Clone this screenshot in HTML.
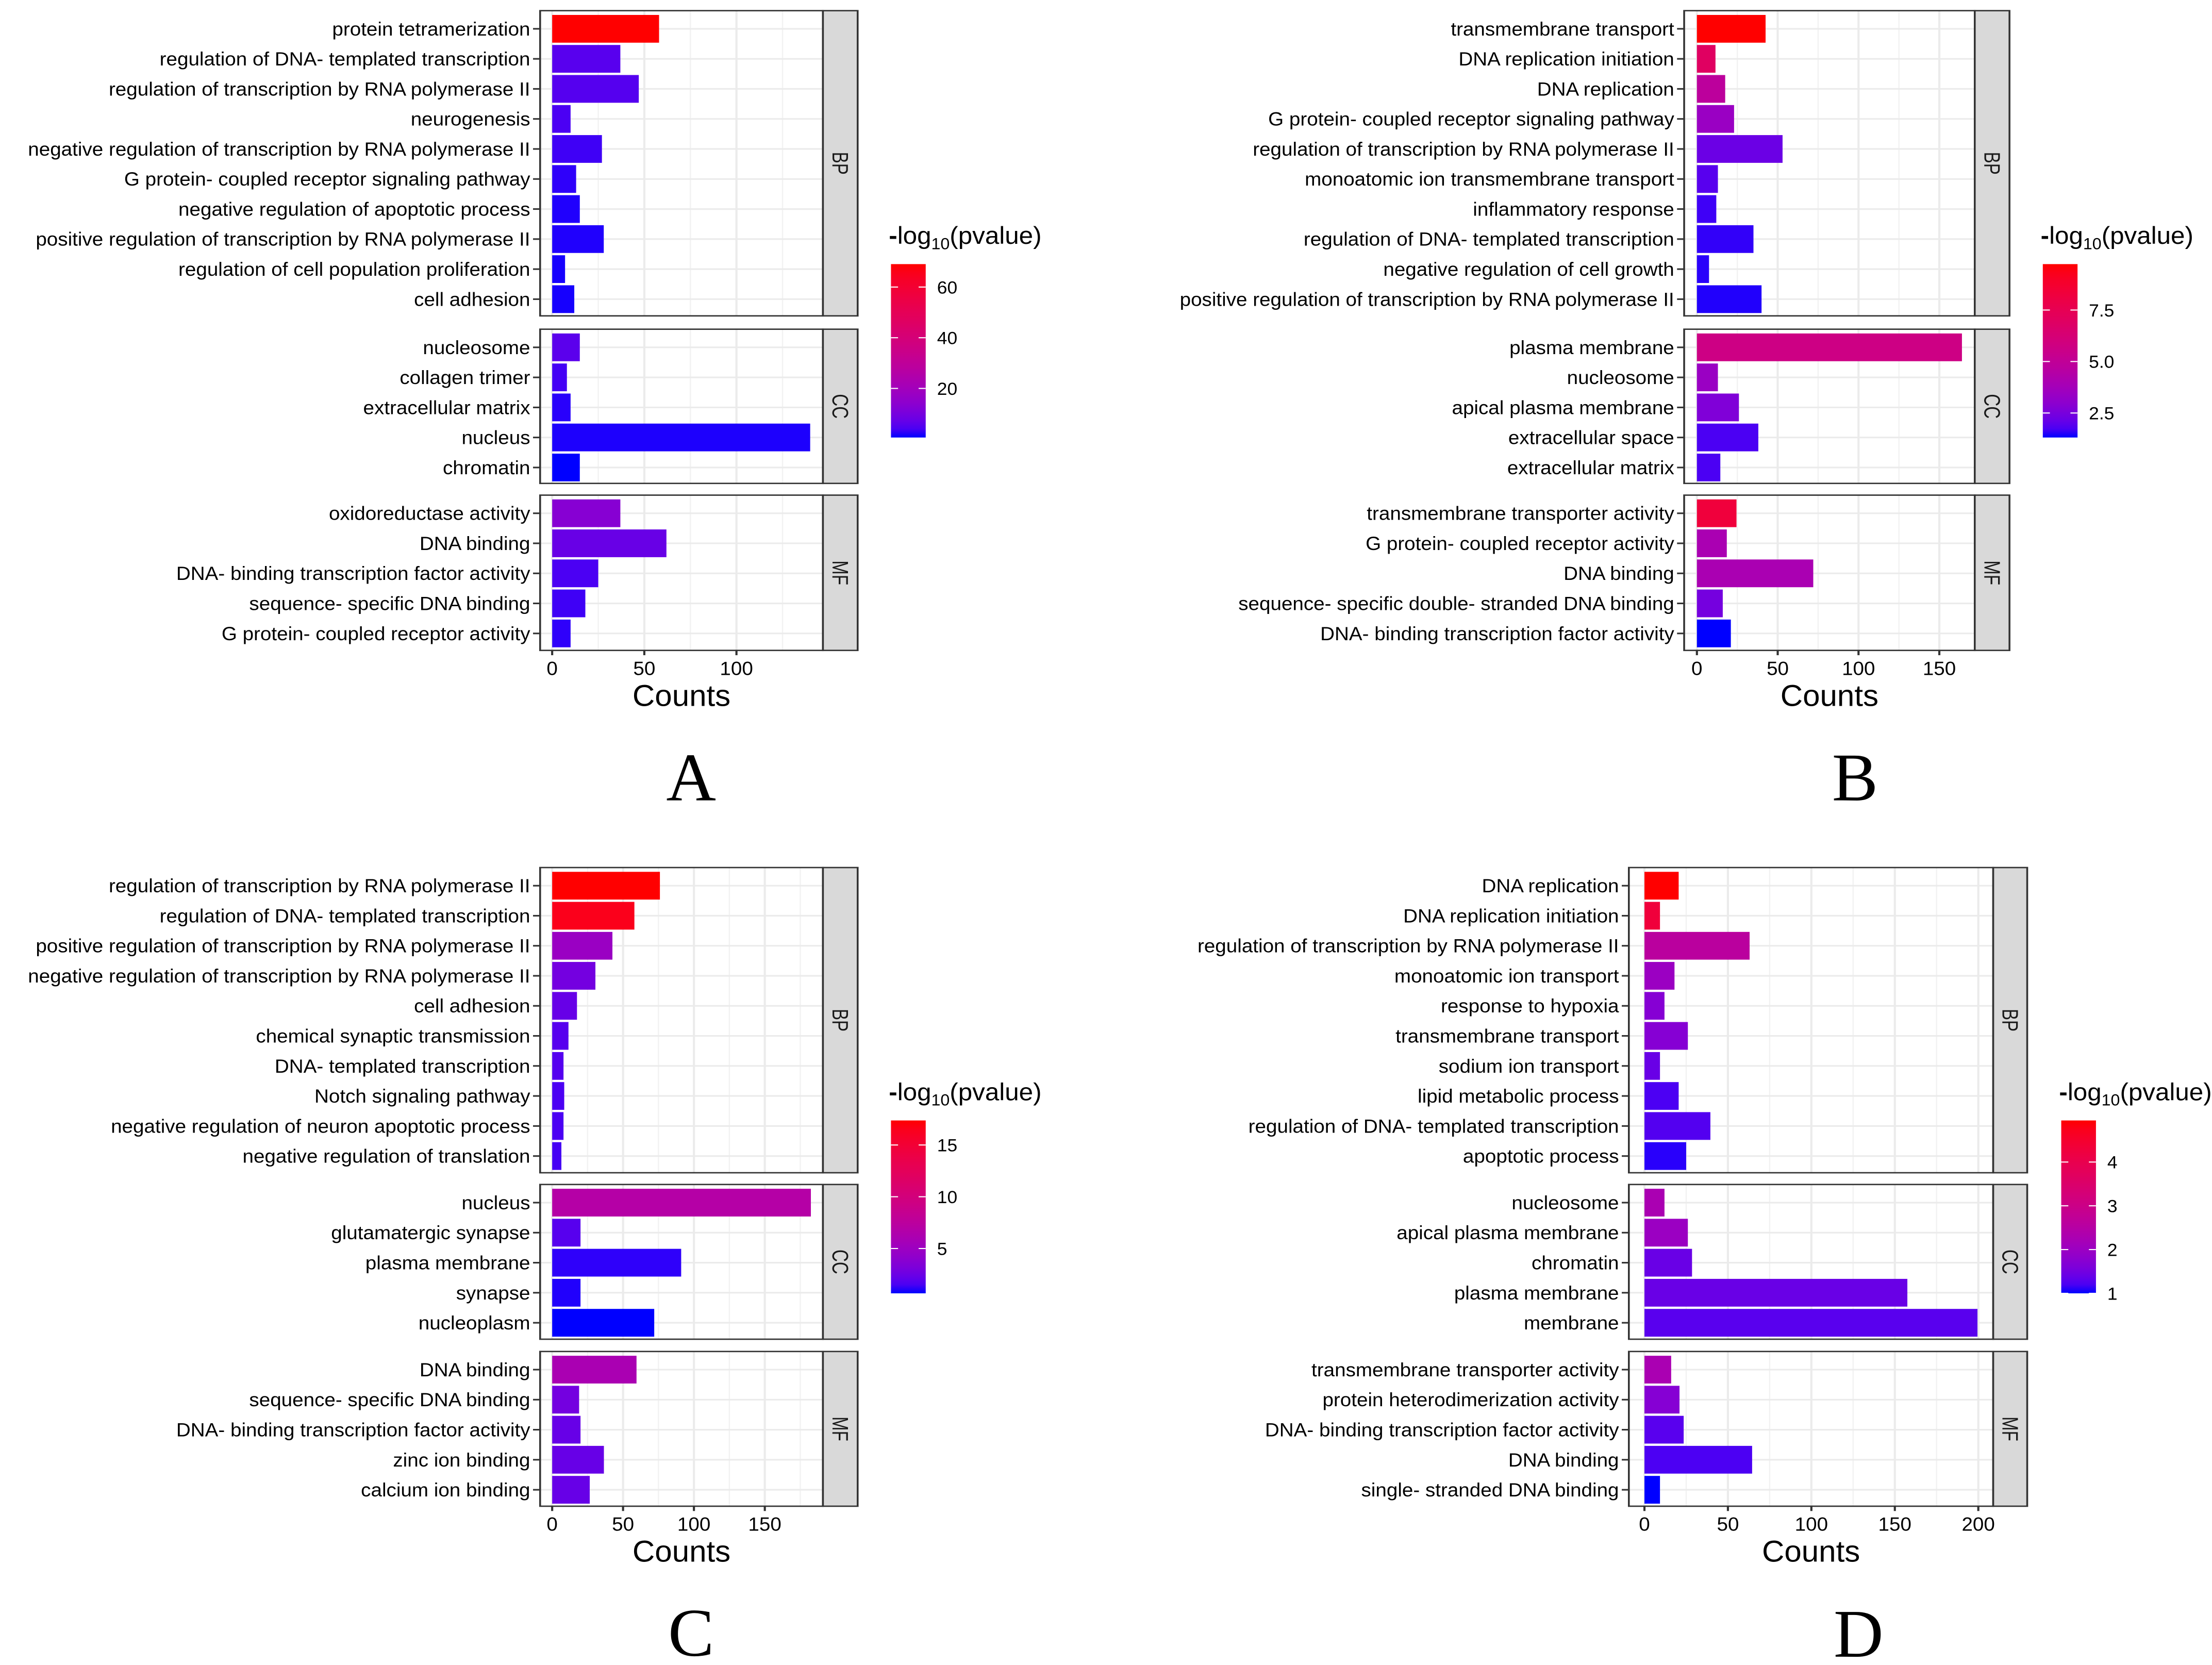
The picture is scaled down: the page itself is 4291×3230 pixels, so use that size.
<!DOCTYPE html>
<html><head><meta charset="utf-8"><style>
html,body{margin:0;padding:0;background:#fff;}
svg{display:block;}
text{font-family:"Liberation Sans",sans-serif;}
</style></head><body>
<svg id="fig" xmlns="http://www.w3.org/2000/svg" width="4291" height="3230" viewBox="0 0 3120.7 3120.6" preserveAspectRatio="none">
<rect x="0" y="0" width="3120.7" height="3120.6" fill="#fff"/>
</svg>
<script>
// ---- Panel A data ----
const aTerms = ["protein tetramerization","regulation of DNA- templated transcription","regulation of transcription by RNA polymerase II","neurogenesis","negative regulation of transcription by RNA polymerase II","G protein- coupled receptor signaling pathway","negative regulation of apoptotic process","positive regulation of transcription by RNA polymerase II","regulation of cell population proliferation","cell adhesion","nucleosome","collagen trimer","extracellular matrix","nucleus","chromatin","oxidoreductase activity","DNA binding","DNA- binding transcription factor activity","sequence- specific DNA binding","G protein- coupled receptor activity"];
const aCounts = [58,37,47,10,27,13,15,28,7,12,15,8,10,140,15,37,62,25,18,10];
const aLogP = [69,5.4,5.1,4.0,3.0,2.0,1.3,1.3,1.0,1.0,5.8,3.4,1.7,1.2,0.63,13,7.5,4,3,2];
const aTicks = [20,40,60];
// ---- Panel B data ----
const bTerms = ["transmembrane transport","DNA replication initiation","DNA replication","G protein- coupled receptor signaling pathway","regulation of transcription by RNA polymerase II","monoatomic ion transmembrane transport","inflammatory response","regulation of DNA- templated transcription","negative regulation of cell growth","positive regulation of transcription by RNA polymerase II","plasma membrane","nucleosome","apical plasma membrane","extracellular space","extracellular matrix","transmembrane transporter activity","G protein- coupled receptor activity","DNA binding","sequence- specific double- stranded DNA binding","DNA- binding transcription factor activity"];
const bCounts = [42.5,11.5,17.5,23,53,13,12,35,7.5,40,164,13,26,38,14.5,24.5,18.5,72,16,21];
const bLogP = [9.73,7.0,4.8,3.4,2.2,1.9,1.6,1.5,1.44,1.4,5.7,3.4,2.66,1.73,1.73,8.3,4.0,4.0,2.4,1.31];
const bTicks = [2.5,5.0,7.5];
// ---- Panel C data ----
const cTerms = ["regulation of transcription by RNA polymerase II","regulation of DNA- templated transcription","positive regulation of transcription by RNA polymerase II","negative regulation of transcription by RNA polymerase II","cell adhesion","chemical synaptic transmission","DNA- templated transcription","Notch signaling pathway","negative regulation of neuron apoptotic process","negative regulation of translation","nucleus","glutamatergic synapse","plasma membrane","synapse","nucleoplasm","DNA binding","sequence- specific DNA binding","DNA- binding transcription factor activity","zinc ion binding","calcium ion binding"];
const cCounts = [76,58,42.5,30.5,17.5,11.5,8,8.5,8,6.5,182.5,20,91,20,72,59.5,19,20,36.5,26.5];
const cLogP = [17.37,16.5,4.8,2.8,2.3,1.8,1.75,1.5,1.5,1.4,6.9,1.8,1.0,0.85,0.67,6.0,2.8,2.3,2.3,2.3];
const cTicks = [5,10,15];
// ---- Panel D data ----
const dTerms = ["DNA replication","DNA replication initiation","regulation of transcription by RNA polymerase II","monoatomic ion transport","response to hypoxia","transmembrane transport","sodium ion transport","lipid metabolic process","regulation of DNA- templated transcription","apoptotic process","nucleosome","apical plasma membrane","chromatin","plasma membrane","membrane","transmembrane transporter activity","protein heterodimerization activity","DNA- binding transcription factor activity","DNA binding","single- stranded DNA binding"];
const dCounts = [20.5,9.3,63,18,12,26,9.3,20.5,39.5,25,12,26,28.5,157.5,199.5,16,21,23.5,64.5,9.3];
const dLogP = [4.95,4.3,2.6,2.0,1.7,1.7,1.4,1.2,1.24,1.06,2.26,2.0,1.4,1.4,1.28,2.26,1.7,1.28,1.2,1.0];
const dTicks = [1,2,3,4];

const facetNames = ["BP","CC","MF"];
const NS = "http://www.w3.org/2000/svg";
const svg = document.getElementById("fig");
const SX = 0.78;
const FS = 36;

function mk(tag, attrs, parent){
  const e = document.createElementNS(NS, tag);
  for (const k in attrs) e.setAttribute(k, attrs[k]);
  (parent||svg).appendChild(e);
  return e;
}
function srgb2lin(c){c/=255;return c<=0.04045?c/12.92:Math.pow((c+0.055)/1.055,2.4);}
function lin2srgb(c){c=c<=0.0031308?12.92*c:1.055*Math.pow(c,1/2.4)-0.055;return Math.max(0,Math.min(255,Math.round(c*255)));}
const Xn=0.95047,Yn=1,Zn=1.08883;
function f(t){return t>0.008856?Math.cbrt(t):7.787*t+16/116;}
function finv(t){return t>0.206893?t*t*t:(t-16/116)/7.787;}
function rgb2lab(r,g,b){r=srgb2lin(r);g=srgb2lin(g);b=srgb2lin(b);
  const X=0.4124*r+0.3576*g+0.1805*b,Y=0.2126*r+0.7152*g+0.0722*b,Z=0.0193*r+0.1192*g+0.9505*b;
  const fx=f(X/Xn),fy=f(Y/Yn),fz=f(Z/Zn);return [116*fy-16,500*(fx-fy),200*(fy-fz)];}
function lab2rgb(L,a,bb){const fy=(L+16)/116,fx=fy+a/500,fz=fy-bb/200;
  const X=Xn*finv(fx),Y=Yn*finv(fy),Z=Zn*finv(fz);
  const r=3.2406*X-1.5372*Y-0.4986*Z,g=-0.9689*X+1.8758*Y+0.0415*Z,b=0.0557*X-0.2040*Y+1.0570*Z;
  return "rgb("+lin2srgb(r)+","+lin2srgb(g)+","+lin2srgb(b)+")";}
const LB=rgb2lab(0,0,255), LR=rgb2lab(255,0,0);
function col(t){t=Math.max(0,Math.min(1,t));return lab2rgb(LB[0]+(LR[0]-LB[0])*t,LB[1]+(LR[1]-LB[1])*t,LB[2]+(LR[2]-LB[2])*t);}

function ctext(str, x, y, size, anchor, sx, parent, name){
  const t = mk("text", {transform:"translate("+x+","+y+") scale("+sx+",1)", "font-size":size, "text-anchor":anchor, fill:"#000"}, parent);
  t.textContent = str;
  
  
  return t;
}

function drawPanel(cfg, terms, counts, logp, lticks){
  const g = mk("g", {transform:"translate("+cfg.ox+","+cfg.oy+")"});
  
  
  const xs = v => cfg.x0 + v*cfg.ppc;
  const xmax = (cfg.right - cfg.x0)/cfg.ppc;
  const vcol = v => col((v-cfg.vmin)/(cfg.vmax-cfg.vmin));
  const counts3 = [10,5,5];
  let idx = 0;
  cfg.facets.forEach((fy, fi) => {
    const fg = mk("g", {}, g);
    
    
    mk("rect", {x:cfg.left, y:fy[0], width:cfg.right-cfg.left, height:fy[1]-fy[0], fill:"#fff"}, fg);
    for (let v = cfg.step/2; v < xmax; v += cfg.step){
      mk("line", {x1:xs(v), x2:xs(v), y1:fy[0], y2:fy[1], stroke:"#f2f2f2", "stroke-width":1.8}, fg);
    }
    for (let v = 0; v < xmax; v += cfg.step){
      mk("line", {x1:xs(v), x2:xs(v), y1:fy[0], y2:fy[1], stroke:"#ebebeb", "stroke-width":3}, fg);
    }
    for (let k = 0; k < counts3[fi]; k++){
      const cy = fy[0] + 34 + k*56.3;
      mk("line", {x1:cfg.left, x2:cfg.right, y1:cy, y2:cy, stroke:"#ebebeb", "stroke-width":3}, fg);
    }
    for (let k = 0; k < counts3[fi]; k++){
      const cy = fy[0] + 34 + k*56.3;
      const bar = mk("rect", {x:xs(0), y:cy-26, width:xs(counts[idx])-xs(0), height:52, fill:vcol(logp[idx])}, fg);
      
      
      mk("line", {x1:cfg.left-10, x2:cfg.left, y1:cy, y2:cy, stroke:"#333", "stroke-width":3}, fg);
      ctext(terms[idx], cfg.left-14, cy+12.5, FS, "end", SX, fg, 'y-tick-label');
      idx++;
    }
    mk("rect", {x:cfg.left, y:fy[0], width:cfg.right-cfg.left, height:fy[1]-fy[0], fill:"none", stroke:"#333", "stroke-width":2.6}, fg);
    const st = mk("rect", {x:cfg.right, y:fy[0], width:cfg.strip-cfg.right, height:fy[1]-fy[0], fill:"#d9d9d9", stroke:"#333", "stroke-width":2.6}, fg);
    
    
    const sxp = (cfg.right+cfg.strip)/2, syp = (fy[0]+fy[1])/2;
    const stt = mk("text", {transform:"translate("+(sxp-11)+","+syp+") rotate(90)", "font-size":32, "text-anchor":"middle", fill:"#1a1a1a"}, fg);
    stt.textContent = facetNames[fi];
    
    
  });
  const last = cfg.facets[2][1];
  for (let v = 0; v < xmax; v += cfg.step){
    mk("line", {x1:xs(v), x2:xs(v), y1:last, y2:last+9, stroke:"#333", "stroke-width":3}, g);
    ctext(String(v), xs(v), last+46, FS, "middle", SX, g, 'x-tick-label');
  }
  ctext("Counts", (cfg.left+cfg.right)/2, last+104, 56, "middle", 0.78, g, 'x-axis-title');
  const L = mk("text", {transform:"translate("+cfg.letterX+","+cfg.letterY+") scale(0.76,1)", "font-size":128, "text-anchor":"middle", fill:"#000", style:"font-family:'Liberation Serif',serif"}, g);
  L.textContent = cfg.id;
  
  
  const lg = mk("g", {}, g);
  
  
  const gid = "grad" + cfg.id;
  const defs = mk("defs", {}, lg);
  const lgr = mk("linearGradient", {id:gid, x1:0, y1:1, x2:0, y2:0}, defs);
  for (let i = 0; i <= 20; i++) mk("stop", {offset:i/20, "stop-color":col(i/20)}, lgr);
  mk("rect", {x:cfg.lx, y:cfg.ly0, width:49, height:cfg.ly1-cfg.ly0, fill:"url(#"+gid+")"}, lg);
  const ttl = mk("text", {transform:"translate("+(cfg.lx-3)+","+(cfg.ly0-38)+") scale(0.78,1)", "font-size":46, fill:"#000"}, lg);
  ttl.innerHTML = '<tspan font-weight="bold">-</tspan>log<tspan font-size="30" dy="10">10</tspan><tspan dy="-10">(pvalue)</tspan>';
  
  
  lticks.forEach(v => {
    const y = cfg.ly1 - (v-cfg.vmin)/(cfg.vmax-cfg.vmin)*(cfg.ly1-cfg.ly0);
    mk("line", {x1:cfg.lx, x2:cfg.lx+10, y1:y, y2:y, stroke:"#fff", "stroke-width":2}, lg);
    mk("line", {x1:cfg.lx+39, x2:cfg.lx+49, y1:y, y2:y, stroke:"#fff", "stroke-width":2}, lg);
    ctext(cfg.fmt ? v.toFixed(1) : String(v), cfg.lx+65, y+12, 33, "start", SX, lg, 'legend-tick-label');
  });
}

drawPanel({id:"A", ox:0, oy:0, left:762, right:1161, strip:1210, x0:779, ppc:2.6, step:50,
  facets:[[20,592],[617,906],[928,1219]], letterX:975, letterY:1500,
  lx:1257, ly0:495, ly1:820, vmin:0.63, vmax:69.05}, aTerms, aCounts, aLogP, aTicks);
drawPanel({id:"B", ox:1560, oy:0, left:816, right:1226, strip:1275, x0:834, ppc:2.28, step:50,
  facets:[[20,592],[617,906],[928,1219]], letterX:1057, letterY:1500,
  lx:1322, ly0:495, ly1:820, vmin:1.31, vmax:9.73, fmt:true}, bTerms, bCounts, bLogP, bTicks);
drawPanel({id:"C", ox:0, oy:1560, left:762, right:1161, strip:1210, x0:779, ppc:2.0, step:50,
  facets:[[66,638],[660,950],[973,1263]], letterX:975, letterY:1543,
  lx:1257, ly0:540, ly1:864, vmin:0.67, vmax:17.37}, cTerms, cCounts, cLogP, cTicks);
drawPanel({id:"D", ox:1560, oy:1560, left:738, right:1252, strip:1300, x0:760, ppc:2.355, step:50,
  facets:[[66,638],[660,950],[973,1263]], letterX:1062, letterY:1545,
  lx:1348, ly0:540, ly1:864, vmin:1.0, vmax:4.95}, dTerms, dCounts, dLogP, dTicks);
</script>
</body></html>
